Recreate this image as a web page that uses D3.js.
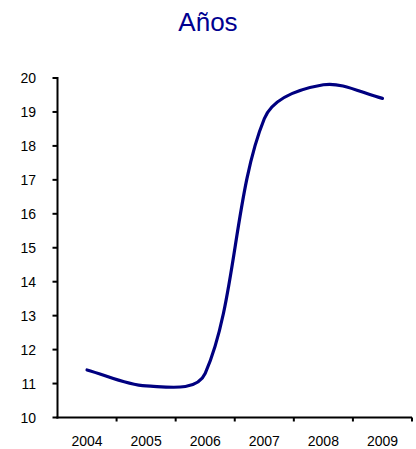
<!DOCTYPE html>
<html><head><meta charset="utf-8">
<script src="https://cdn.jsdelivr.net/npm/d3@7"></script>
<style>body{margin:0;background:#fff;}svg{display:block;font-family:"Liberation Sans",Arial,sans-serif;}</style>
</head><body>
<svg id="c" width="416" height="449"></svg>
<script>
const categories = ["2004","2005","2006","2007","2008","2009"];
const values = [11.4, 10.93, 11.3, 18.8, 19.8, 19.4];
const yTicks = [10,11,12,13,14,15,16,17,18,19,20];
const title = "Años";

// Excel-style smoothed line curve for d3.line
function ExcelCurve(context){ this._context = context; }
ExcelCurve.prototype = {
  areaStart(){}, areaEnd(){},
  lineStart(){ this._pts = []; },
  point(x, y){ this._pts.push([+x, +y]); },
  lineEnd(){
    const p = this._pts, c = this._context, n = p.length;
    if (!n) return;
    const dist = (a,b)=>Math.hypot(b[0]-a[0], b[1]-a[1]);
    c.moveTo(p[0][0], p[0][1]);
    for (let i = 0; i < n-1; i++) {
      const P0 = p[i-1] || p[i], P1 = p[i], P2 = p[i+1], P3 = p[i+2] || p[i+1];
      const d01 = dist(P0,P1), d12 = dist(P1,P2), d23 = dist(P2,P3);
      const f1 = 0.9*d12/(d01+d12) + 0.05, f2 = 0.9*d12/(d12+d23) + 0.05;
      c.bezierCurveTo(
        P1[0] + (P2[0]-P0[0])*f1/3, P1[1] + (P2[1]-P0[1])*f1/3,
        P2[0] - (P3[0]-P1[0])*f2/3, P2[1] - (P3[1]-P1[1])*f2/3,
        P2[0], P2[1]);
    }
  }
};
const curveExcel = ctx => new ExcelCurve(ctx);

const svg = d3.select("#c");
const m = {left:57.5, right:412, top:78, bottom:417.5};
const x = d3.scaleBand().domain(categories).range([m.left, m.right]);
const y = d3.scaleLinear().domain([10,20]).range([m.bottom, m.top]);

svg.append("text").attr("x",208).attr("y",31).attr("text-anchor","middle")
  .attr("font-size",26).attr("fill","#000090").text(title);

// y axis
const ya = svg.append("g");
ya.append("line").attr("x1",m.left).attr("x2",m.left).attr("y1",y(20)-1).attr("y2",m.bottom+1)
  .attr("stroke","#000").attr("stroke-width",2);
ya.selectAll("line.t").data(yTicks).join("line").attr("class","t")
  .attr("x1",m.left-5).attr("x2",m.left).attr("y1",d=>y(d)).attr("y2",d=>y(d))
  .attr("stroke","#000").attr("stroke-width",2);
ya.selectAll("text").data(yTicks).join("text")
  .attr("x",36).attr("y",d=>y(d)+5).attr("text-anchor","end")
  .attr("font-size",14).attr("fill","#000").text(d=>d);

// x axis
const xa = svg.append("g");
xa.append("line").attr("x1",m.left-1).attr("x2",m.right).attr("y1",m.bottom).attr("y2",m.bottom)
  .attr("stroke","#000").attr("stroke-width",2);
const bounds = categories.map(c=>x(c)+x.bandwidth());
xa.selectAll("line.t").data(bounds).join("line").attr("class","t")
  .attr("x1",d=>d).attr("x2",d=>d).attr("y1",m.bottom).attr("y2",m.bottom+4)
  .attr("stroke","#000").attr("stroke-width",2);
xa.selectAll("text").data(categories).join("text")
  .attr("x",d=>x(d)+x.bandwidth()/2).attr("y",446).attr("text-anchor","middle")
  .attr("font-size",14).attr("fill","#000").text(d=>d);

const line = d3.line().x((d,i)=>x(categories[i])+x.bandwidth()/2).y(d=>y(d))
  .curve(curveExcel);
svg.append("path").datum(values).attr("d",line).attr("fill","none")
  .attr("stroke","#000080").attr("stroke-width",3.2).attr("stroke-linecap","round");
</script>
</body></html>
